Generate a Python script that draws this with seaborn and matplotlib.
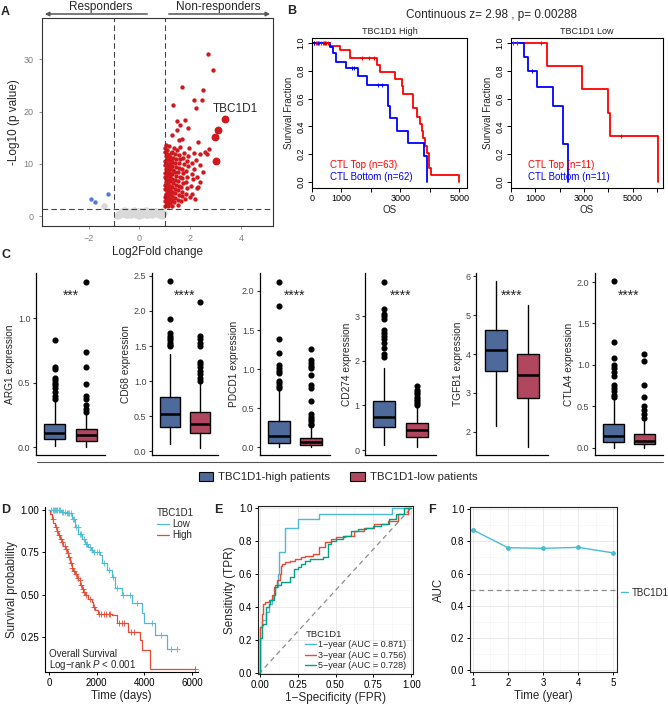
import matplotlib
matplotlib.use("Agg")
import matplotlib.pyplot as plt
from matplotlib.patches import Patch, FancyArrowPatch
from matplotlib.lines import Line2D
from matplotlib.transforms import blended_transform_factory
from matplotlib.ticker import MultipleLocator, FormatStrFormatter
import numpy as np
import pandas as pd
import seaborn as sns

W, H = 668, 704

# ---------------- A: volcano plot values (log2FC, -log10 p) ----------------
red_pts = [
    (1.01, 2.0), (1.02, 2.8), (1.01, 3.6), (1.03, 4.3), (1.02, 5.1), (1.01, 5.9), (1.03, 6.6), (1.02, 7.4),
    (1.01, 8.2), (1.03, 9.0), (1.02, 9.8), (1.01, 10.6), (1.03, 11.4), (1.02, 12.2), (1.01, 13.0), (1.03, 13.6),
    (1.07, 2.4), (1.08, 3.2), (1.06, 4.0), (1.09, 4.8), (1.07, 5.6), (1.08, 6.3), (1.06, 7.1), (1.09, 7.9),
    (1.07, 8.6), (1.08, 9.4), (1.06, 10.2), (1.09, 11.0), (1.07, 11.8), (1.08, 12.6),
    (1.13, 1.9), (1.14, 2.9), (1.12, 3.7), (1.15, 4.5), (1.13, 5.3), (1.14, 6.1), (1.12, 6.9), (1.15, 7.7),
    (1.13, 8.5), (1.14, 9.2), (1.12, 10.0), (1.15, 10.8), (1.13, 11.6), (1.18, 13.4),
    (1.2, 2.5), (1.21, 3.3), (1.19, 4.2), (1.22, 5.0), (1.2, 5.8), (1.21, 6.7), (1.19, 7.4), (1.22, 8.2),
    (1.2, 9.0), (1.21, 9.8), (1.23, 10.5), (1.2, 11.3), (1.24, 12.1),
    (1.27, 2.0), (1.28, 3.0), (1.3, 3.9), (1.27, 4.7), (1.29, 5.5), (1.31, 6.3), (1.28, 7.1), (1.3, 8.0),
    (1.32, 8.8), (1.27, 9.5), (1.3, 10.3), (1.33, 11.1), (1.29, 12.3), (1.27, 15.5), (1.34, 21.2), (1.35, 13.0),
    (1.37, 2.6), (1.39, 3.5), (1.41, 4.4), (1.38, 5.2), (1.42, 6.0), (1.4, 6.9), (1.43, 7.7), (1.39, 8.5),
    (1.44, 9.3), (1.41, 10.1), (1.45, 11.0), (1.4, 11.8), (1.46, 12.6), (1.47, 16.4), (1.47, 18.2),
    (1.5, 2.2), (1.52, 3.1), (1.55, 4.0), (1.51, 5.0), (1.56, 5.8), (1.53, 6.7), (1.58, 7.5), (1.52, 8.4),
    (1.57, 9.2), (1.54, 10.1), (1.6, 10.9), (1.55, 11.7), (1.54, 14.5), (1.6, 13.3), (1.6, 17.4), (1.67, 14.8),
    (1.68, 24.7),
    (1.63, 2.8), (1.66, 3.8), (1.68, 4.7), (1.64, 5.6), (1.7, 6.4), (1.67, 7.3), (1.72, 8.2), (1.69, 9.1),
    (1.74, 10.0), (1.71, 11.2), (1.76, 12.0), (1.8, 18.4),
    (1.8, 3.3), (1.83, 4.3), (1.86, 5.4), (1.82, 6.5), (1.88, 7.4), (1.85, 8.6), (1.9, 9.5), (1.87, 10.6),
    (1.93, 11.5), (1.93, 16.8), (1.97, 13.0),
    (2.0, 3.7), (2.06, 4.3), (2.03, 5.8), (2.1, 7.0), (2.05, 8.0), (2.13, 9.0), (2.08, 10.2), (2.15, 12.0),
    (2.13, 22.3), (2.23, 10.8), (2.26, 7.5), (2.3, 5.6), (2.28, 5.3), (2.22, 20.6), (2.3, 14.2), (2.39, 11.9),
    (2.39, 9.8), (2.46, 22.2), (2.52, 24.1), (2.5, 8.5), (2.58, 12.3), (2.65, 11.9), (2.72, 12.9),
    (2.68, 31.1), (2.89, 27.9), (2.2, 3.2), (2.4, 6.5),
]
big_pts = [(3.37, 18.5), (3.11, 16.4), (2.98, 15.2), (3.02, 10.5)]
blue_pts = [(-1.91, 3.2), (-1.76, 2.6), (-1.23, 4.3)]
gray_pts = [
    (-0.9, 0.1), (-0.85, 0.3), (-0.8, 0.6), (-0.75, 0.2), (-0.7, 0.9), (-0.65, 0.4), (-0.6, 0.7), (-0.6, 1.1),
    (-0.55, 0.2), (-0.5, 1.0), (-0.5, 0.5), (-0.45, 0.3), (-0.4, 0.8), (-0.35, 0.15), (-0.3, 0.55), (-0.3, 1.05),
    (-0.25, 0.35), (-0.2, 0.8), (-0.2, 1.1), (-0.15, 0.2), (-0.1, 0.6), (-0.1, 1.0), (-0.05, 0.4), (0.0, 0.1),
    (0.0, 0.9), (0.05, 0.5), (0.1, 0.25), (0.1, 1.05), (0.15, 0.7), (0.2, 0.4), (0.2, 1.0), (0.25, 0.15),
    (0.25, 1.1), (0.3, 0.6), (0.35, 0.3), (0.35, 1.0), (0.4, 0.85), (0.45, 0.5), (0.5, 0.2), (0.5, 1.0),
    (0.55, 0.7), (0.6, 0.35), (0.6, 1.05), (0.65, 0.9), (0.7, 0.55), (0.75, 0.25), (0.8, 0.8), (0.85, 0.45),
    (0.9, 0.9), (0.9, 0.1), (0.95, 0.6), (-1.38, 1.9),
]

# ---------------- B: KM curves by CTL level ----------------
b_hi_top_t = [0, 600, 940, 1280, 2190, 2320, 2830, 3040, 3100, 3420, 3580, 3660, 3720, 3780, 3830, 3910, 3970, 4030, 5000]
b_hi_top_s = [1.0, 0.98, 0.95, 0.89, 0.84, 0.79, 0.74, 0.69, 0.63, 0.53, 0.47, 0.42, 0.37, 0.32, 0.26, 0.21, 0.10, 0.05, 0.0]
b_hi_bot_t = [0, 600, 715, 830, 1170, 1565, 1850, 2585, 2640, 2870, 3265, 3810, 3890]
b_hi_bot_s = [1.0, 0.97, 0.93, 0.86, 0.82, 0.76, 0.70, 0.55, 0.46, 0.37, 0.28, 0.19, 0.0]
b_hi_top_cens = [60, 120, 180, 240, 300, 360, 420, 480, 540, 1700, 1950, 2120]
b_hi_bot_cens = [60, 200, 450, 1350, 1420, 2250, 2380]
b_lo_top_t = [0, 1460, 2920, 3990, 4060, 6040]
b_lo_top_s = [1.0, 0.833, 0.667, 0.5, 0.333, 0.0]
b_lo_bot_t = [0, 530, 680, 1050, 1710, 2145, 2350]
b_lo_bot_s = [1.0, 0.9, 0.8, 0.686, 0.549, 0.274, 0.0]
b_lo_top_cens = [100, 260, 1250, 4530]
b_lo_bot_cens = [850]

# ---------------- C: box plot summaries [whislo, q1, median, q3, whishi] ----------------
c_genes = ['ARG1', 'CD68', 'PDCD1', 'CD274', 'TGFB1', 'CTLA4']
c_stars = ['***', '****', '****', '****', '****', '****']
c_high = [[0.01, 0.065, 0.11, 0.18, 0.35], [0.10, 0.35, 0.53, 0.77, 1.39], [0.0, 0.05, 0.14, 0.33, 0.73],
          [0.12, 0.51, 0.75, 1.10, 1.85], [2.15, 3.57, 4.10, 4.61, 5.88], [0.0, 0.07, 0.14, 0.28, 0.58]]
c_low = [[0.0, 0.05, 0.095, 0.14, 0.25], [0.05, 0.27, 0.39, 0.56, 0.97], [0.0, 0.03, 0.07, 0.12, 0.25],
         [0.06, 0.30, 0.46, 0.61, 1.01], [1.60, 2.88, 3.46, 4.01, 5.26], [0.0, 0.04, 0.08, 0.16, 0.34]]
c_high_out = [[0.83, 0.62, 0.61, 0.54, 0.52, 0.50, 0.48, 0.46, 0.43, 0.40, 0.37],
              [2.42, 1.88, 1.68, 1.65, 1.62, 1.58, 1.55, 1.52, 1.50],
              [2.12, 1.81, 1.39, 1.20, 1.05, 1.02, 0.98, 0.95, 0.85, 0.82, 0.78, 0.76],
              [3.76, 3.16, 3.06, 3.0, 2.93, 2.70, 2.62, 2.55, 2.48, 2.40, 2.28, 2.15, 2.08],
              [],
              [2.01, 1.28, 1.08, 1.0, 0.96, 0.91, 0.87, 0.76, 0.72, 0.68, 0.64, 0.61]]
c_low_out = [[1.28, 0.74, 0.62, 0.49, 0.40, 0.37, 0.33, 0.30, 0.27],
             [2.13, 1.65, 1.60, 1.55, 1.50, 1.28, 1.25, 1.20, 1.15, 1.10, 1.05, 1.0],
             [1.26, 1.12, 1.08, 1.04, 1.02, 0.93, 0.80, 0.76, 0.59, 0.42, 0.39, 0.36, 0.33, 0.30, 0.28],
             [1.44, 1.35, 1.30, 1.25, 1.20, 1.15, 1.10, 1.05, 1.02],
             [],
             [1.13, 1.05, 0.76, 0.61, 0.50, 0.46, 0.40, 0.36]]

# ---------------- D: overall survival by TBC1D1 ----------------
d_low_t = [0, 500, 700, 950, 1090, 1230, 1370, 1510, 1650, 1760, 1860, 2140, 2210, 2420, 2630, 2770, 3050,
           3470, 3890, 4000, 4450, 4940, 5360]
d_low_s = [1.0, 0.99, 0.98, 0.95, 0.90, 0.86, 0.83, 0.80, 0.78, 0.765, 0.75, 0.735, 0.69, 0.645, 0.605,
           0.54, 0.50, 0.45, 0.39, 0.33, 0.26, 0.18, 0.18]
d_high_t = [0, 60, 110, 180, 250, 320, 390, 460, 530, 600, 670, 740, 810, 880, 950, 1020, 1090, 1160, 1230,
            1300, 1370, 1440, 1510, 1650, 1790, 1860, 1930, 2070, 2650, 2840, 3330, 3820, 3890, 4240, 6120]
d_high_s = [1.0, 0.975, 0.95, 0.925, 0.90, 0.875, 0.85, 0.83, 0.81, 0.79, 0.77, 0.745, 0.72, 0.69, 0.66,
            0.64, 0.62, 0.60, 0.585, 0.56, 0.535, 0.515, 0.497, 0.475, 0.457, 0.43, 0.408, 0.388, 0.378,
            0.33, 0.28, 0.23, 0.171, 0.063, 0.063]
d_low_cens = [100, 150, 200, 250, 300, 350, 400, 450, 550, 600, 650, 750, 800, 850, 900, 1000, 1050, 1150,
              1200, 1300, 1350, 1450, 1550, 1600, 1700, 1800, 1900, 2000, 2100, 2300, 2500, 2700, 2850,
              3100, 3400, 3700, 4300, 4700, 5100, 5360]
d_high_cens = [150, 280, 350, 420, 500, 560, 650, 720, 780, 850, 920, 980, 1050, 1150, 1200, 1280, 1350,
               1420, 1480, 1550, 1700, 1900, 2100, 2200, 2300, 2400, 2500, 2550, 2950, 3050, 3150, 3450,
               3550, 6120]

# ---------------- E: time-dependent ROC ----------------
roc_labels = ['1\u2212year (AUC = 0.871)', '3\u2212year (AUC = 0.756)', '5\u2212year (AUC = 0.728)']
fpr_1y = [0.0, 0.004, 0.015, 0.04, 0.06, 0.08, 0.09, 0.1, 0.12, 0.13, 0.165, 0.25, 0.39, 0.87, 1.0]
tpr_1y = [0.0, 0.2, 0.28, 0.32, 0.37, 0.42, 0.45, 0.47, 0.52, 0.60, 0.73, 0.88, 0.93, 0.96, 1.0]
fpr_3y = [0.0, 0.004, 0.015, 0.025, 0.037, 0.06, 0.081, 0.092, 0.1, 0.113, 0.135, 0.14, 0.146, 0.168, 0.2,
          0.233, 0.27, 0.3, 0.35, 0.39, 0.43, 0.47, 0.5, 0.56, 0.625, 0.69, 0.756, 0.843, 0.908, 0.974, 1.0]
tpr_3y = [0.0, 0.22, 0.28, 0.36, 0.42, 0.43, 0.44, 0.47, 0.52, 0.53, 0.56, 0.60, 0.65, 0.66, 0.67, 0.68,
          0.69, 0.70, 0.71, 0.72, 0.76, 0.79, 0.81, 0.82, 0.83, 0.86, 0.88, 0.90, 0.92, 0.96, 1.0]
fpr_5y = [0.0, 0.004, 0.015, 0.025, 0.04, 0.06, 0.07, 0.092, 0.1, 0.113, 0.14, 0.2, 0.23, 0.25, 0.27, 0.3,
          0.33, 0.42, 0.45, 0.47, 0.5, 0.55, 0.6, 0.65, 0.7, 0.75, 0.8, 0.85, 0.9, 0.95, 1.0]
tpr_5y = [0.0, 0.21, 0.21, 0.29, 0.30, 0.40, 0.42, 0.44, 0.47, 0.52, 0.53, 0.55, 0.58, 0.63, 0.64, 0.66,
          0.68, 0.69, 0.70, 0.78, 0.80, 0.81, 0.83, 0.86, 0.87, 0.88, 0.89, 0.90, 0.93, 0.96, 1.0]

# ---------------- F: AUC over time ----------------
auc_years = [1, 2, 3, 4, 5]
auc_vals = [0.871, 0.760, 0.756, 0.762, 0.728]

NPG_RED, NPG_BLUE, NPG_GREEN = '#E64B35', '#4DBBD5', '#00A087'
BOX_HIGH, BOX_LOW = '#4E6A9B', '#B0475E'

sns.set_theme(style='ticks')
plt.rcParams['font.family'] = ['Liberation Sans', 'DejaVu Sans']
plt.rcParams['mathtext.fontset'] = 'custom'
plt.rcParams['mathtext.rm'] = 'Liberation Sans'
plt.rcParams['mathtext.it'] = 'Liberation Sans:italic'

fig = plt.figure(figsize=(W / 100, H / 100), dpi=100)


def px_axes(l, t, r, b):
    return fig.add_axes([l / W, 1 - b / H, (r - l) / W, (b - t) / H])


def fx(x):
    return x / W


def fy(y):
    return 1 - y / H


def surv_at(times, surv, cens):
    idx = np.searchsorted(times, cens, side='right') - 1
    return np.asarray(surv)[idx]


# panel letters
for letter, (lx, ly) in {'A': (1, 12), 'B': (287, 11), 'C': (1, 255), 'D': (1, 510),
                         'E': (214, 510), 'F': (428, 510)}.items():
    fig.text(fx(lx), fy(ly), letter, fontsize=9, weight='bold', va='center')

# ---------------- A ----------------
axA = px_axes(42, 18, 273, 226)
gx, gy = zip(*gray_pts)
sns.scatterplot(x=list(gx), y=list(gy), color='#D9D9D9', s=22, linewidth=0, ax=axA)
bx, by = zip(*blue_pts)
sns.scatterplot(x=list(bx), y=list(by), color='#5079DA', s=10, linewidth=0, ax=axA)
rx, ry = zip(*red_pts)
sns.scatterplot(x=list(rx), y=list(ry), color='#D0191E', s=10, linewidth=0, ax=axA)
kx, ky = zip(*big_pts)
sns.scatterplot(x=list(kx), y=list(ky), color='#D0191E', s=32, linewidth=0, ax=axA)
for v in (-1, 1):
    axA.axvline(v, color='#444444', lw=0.8, ls=(0, (5, 3)))
axA.axhline(1.3, color='#444444', lw=0.8, ls=(0, (5, 3)))
axA.text(2.9, 19.3, 'TBC1D1', fontsize=8.5, va='bottom')
axA.set_xlim(-3.84, 5.26)
axA.set_ylim(-1.9, 37.9)
axA.set_xticks([-2, 0, 2, 4])
axA.set_yticks([0, 10, 20, 30])
axA.tick_params(labelsize=6.5, colors='#808080', length=2.5, width=0.6)
axA.set_xlabel('Log2Fold change', fontsize=8.5, labelpad=2)
axA.set_ylabel('-Log10 (p value)', fontsize=8.5, labelpad=3)
for sp in axA.spines.values():
    sp.set_color('#333333')
    sp.set_linewidth(0.8)

fig.add_artist(FancyArrowPatch((fx(150), fy(14)), (fx(42), fy(14)), transform=fig.transFigure,
                               arrowstyle='-|>', mutation_scale=6, color='#555555', lw=1.1))
fig.add_artist(FancyArrowPatch((fx(166), fy(14)), (fx(273), fy(14)), transform=fig.transFigure,
                               arrowstyle='-|>', mutation_scale=6, color='#555555', lw=1.1))
fig.text(fx(101), fy(7), 'Responders', ha='center', va='center', fontsize=8.5)
fig.text(fx(218), fy(7), 'Non-responders', ha='center', va='center', fontsize=8.5)

# ---------------- B ----------------
fig.text(fx(492), fy(15), 'Continuous z= 2.98 , p= 0.00288', ha='center', va='center', fontsize=8.5)
b_sets = [
    ((312, 38, 467, 188), 5260, 'TBC1D1 High', b_hi_top_t, b_hi_top_s, b_hi_top_cens, b_hi_bot_t, b_hi_bot_s,
     b_hi_bot_cens, 'CTL Top (n=63)', 'CTL Bottom (n=62)', [0, 1000, 2000, 3000, 4000, 5000]),
    ((511, 38, 663, 188), 6240, 'TBC1D1 Low', b_lo_top_t, b_lo_top_s, b_lo_top_cens, b_lo_bot_t, b_lo_bot_s,
     b_lo_bot_cens, 'CTL Top (n=11)', 'CTL Bottom (n=11)', [0, 1000, 2000, 3000, 4000, 5000, 6000]),
]
for rect, xmax, title, tt, ts, tc, bt, bs, bc, ltop, lbot, xt in b_sets:
    ax = px_axes(*rect)
    sns.lineplot(x=tt, y=ts, drawstyle='steps-post', estimator=None, sort=False, color='#FF0000', lw=1.3, ax=ax)
    sns.lineplot(x=bt, y=bs, drawstyle='steps-post', estimator=None, sort=False, color='#0000FF', lw=1.3, ax=ax)
    ax.plot(tc, surv_at(tt, ts, tc), ls='none', marker='+', ms=3.5, mew=0.7, color='#FF0000')
    ax.plot(bc, surv_at(bt, bs, bc), ls='none', marker='+', ms=3.5, mew=0.7, color='#0000FF')
    ax.set_xlim(0, xmax)
    ax.set_ylim(-0.043, 1.036)
    ax.set_xticks(xt)
    ax.set_xticklabels(['0', '1000', '', '3000', '', '5000', ''][:len(xt)])
    ax.set_yticks([0, 0.2, 0.4, 0.6, 0.8, 1.0])
    ax.set_yticklabels(['0.0', '0.2', '0.4', '0.6', '0.8', '1.0'], rotation=90, va='center')
    ax.tick_params(labelsize=6.5, length=3, width=0.7, pad=1.5, colors='black')
    ax.set_title(title, fontsize=6.5, pad=3)
    ax.set_xlabel('OS', fontsize=7, labelpad=1)
    ax.set_ylabel('Survival Fraction', fontsize=7, labelpad=2)
    for sp in ax.spines.values():
        sp.set_visible(True)
        sp.set_color('black')
        sp.set_linewidth(0.8)
    ax.text(0.115, 0.155, ltop, color='#FF0000', transform=ax.transAxes, fontsize=7, va='center')
    ax.text(0.115, 0.075, lbot, color='#0000FF', transform=ax.transAxes, fontsize=7, va='center')

# ---------------- C ----------------
c_rects = [(36, 105), (152, 218), (260, 330), (365, 436), (476, 548), (595, 663)]
c_ylims = [(-0.06, 1.35), (-0.05, 2.54), (-0.1, 2.23), (-0.11, 3.97), (1.40, 6.09), (-0.09, 2.11)]
c_steps = [0.5, 0.5, 0.5, 1, 1, 0.5]
for i, gene in enumerate(c_genes):
    l, r = c_rects[i]
    ax = px_axes(l, 273, r, 455)
    stats = []
    for vals, outs in ((c_high[i], c_high_out[i]), (c_low[i], c_low_out[i])):
        stats.append(dict(whislo=vals[0], q1=vals[1], med=vals[2], q3=vals[3], whishi=vals[4], fliers=outs))
    bp = ax.bxp(stats, positions=[0, 1], widths=0.68, patch_artist=True, showcaps=False,
                boxprops=dict(linewidth=1.0, edgecolor='black'),
                medianprops=dict(color='black', linewidth=1.8),
                whiskerprops=dict(color='black', linewidth=1.0),
                flierprops=dict(marker='o', markerfacecolor='black', markeredgecolor='black', markersize=3.4))
    for patch, col in zip(bp['boxes'], (BOX_HIGH, BOX_LOW)):
        patch.set_facecolor(col)
    ax.set_xlim(-0.6, 1.6)
    ax.set_ylim(*c_ylims[i])
    ax.yaxis.set_major_locator(MultipleLocator(c_steps[i]))
    ax.yaxis.set_major_formatter(FormatStrFormatter('%.1f' if c_steps[i] < 1 else '%d'))
    ax.set_xticks([])
    ax.tick_params(axis='y', labelsize=6.5, length=2.5, width=0.8, pad=1.5, labelcolor='#444444')
    ax.set_ylabel(f'{gene} expression', fontsize=7.3, labelpad=2)
    for side in ('top', 'right'):
        ax.spines[side].set_visible(False)
    for side in ('left', 'bottom'):
        ax.spines[side].set_color('black')
        ax.spines[side].set_linewidth(0.9)
    ax.text(0.5, 0.875, c_stars[i], transform=blended_transform_factory(ax.transData, ax.transAxes),
            fontsize=10, ha='center', va='center')

fig.add_artist(Line2D([fx(37), fx(663)], [fy(462), fy(462)], transform=fig.transFigure, color='#555555', lw=0.8))
fig.legend(handles=[Patch(facecolor=BOX_HIGH, edgecolor='black', lw=0.8),
                    Patch(facecolor=BOX_LOW, edgecolor='black', lw=0.8)],
           labels=['TBC1D1-high patients', 'TBC1D1-low patients'], loc='center',
           bbox_to_anchor=(fx(338), fy(477)), ncol=2, frameon=False, fontsize=8.2,
           handlelength=1.3, handleheight=0.8, handletextpad=0.4, columnspacing=1.8)

# ---------------- D ----------------
axD = px_axes(45, 507, 198, 672)
sns.lineplot(x=d_low_t, y=d_low_s, drawstyle='steps-post', estimator=None, sort=False, color=NPG_BLUE,
             lw=0.9, ax=axD, label='Low')
sns.lineplot(x=d_high_t, y=d_high_s, drawstyle='steps-post', estimator=None, sort=False, color=NPG_RED,
             lw=0.9, ax=axD, label='High')
axD.plot(d_low_cens, surv_at(d_low_t, d_low_s, d_low_cens), ls='none', marker='+', ms=4, mew=0.6, color=NPG_BLUE)
axD.plot(d_high_cens, surv_at(d_high_t, d_high_s, d_high_cens), ls='none', marker='+', ms=4, mew=0.6, color=NPG_RED)
axD.set_xlim(-170, 6250)
axD.set_ylim(0.043, 1.018)
axD.set_xticks([0, 2000, 4000, 6000])
axD.set_yticks([0.25, 0.5, 0.75, 1.0])
axD.set_yticklabels(['0.25', '0.50', '0.75', '1.00'])
axD.tick_params(labelsize=7, length=2.5, width=0.7, pad=1.5, colors='black')
axD.set_xlabel('Time (days)', fontsize=8.3, labelpad=1.5)
axD.set_ylabel('Survival probability', fontsize=8.3, labelpad=2)
for side in ('top', 'right'):
    axD.spines[side].set_visible(False)
for side in ('left', 'bottom'):
    axD.spines[side].set_color('black')
    axD.spines[side].set_linewidth(0.8)
legD = axD.legend(title='TBC1D1', loc='upper right', bbox_to_anchor=(1.03, 1.05), frameon=False,
                  fontsize=7, title_fontsize=7, handlelength=1.2, handletextpad=0.4, labelspacing=0.15)
legD._legend_box.align = 'left'
axD.text(0.025, 0.11, 'Overall Survival', transform=axD.transAxes, fontsize=7, va='center')
axD.text(0.025, 0.045, 'Log\u2212rank $P$ < 0.001', transform=axD.transAxes, fontsize=7, va='center')


def grid_box(ax):
    ax.set_facecolor('white')
    ax.grid(which='major', color='#E6E6E6', lw=0.6)
    ax.grid(which='minor', color='#F3F3F3', lw=0.4)
    ax.set_axisbelow(True)
    for sp in ax.spines.values():
        sp.set_visible(True)
        sp.set_color('#222222')
        sp.set_linewidth(0.8)
    ax.tick_params(which='major', labelsize=7, length=2.5, width=0.7, pad=1.5, colors='black')
    ax.tick_params(which='minor', length=0)


# ---------------- E ----------------
axE = px_axes(258, 506, 413, 674)
roc_df = pd.concat([
    pd.DataFrame({'fpr': fpr_1y, 'tpr': tpr_1y, 'curve': roc_labels[0]}),
    pd.DataFrame({'fpr': fpr_3y, 'tpr': tpr_3y, 'curve': roc_labels[1]}),
    pd.DataFrame({'fpr': fpr_5y, 'tpr': tpr_5y, 'curve': roc_labels[2]}),
], ignore_index=True)
axE.axline((0, 0), slope=1, color='#8C8C8C', lw=0.9, ls=(0, (4, 3)))
sns.lineplot(data=roc_df, x='fpr', y='tpr', hue='curve', estimator=None, sort=False, drawstyle='steps-pre',
             palette=dict(zip(roc_labels, [NPG_BLUE, NPG_RED, NPG_GREEN])), lw=1.0, ax=axE)
axE.set_xlim(-0.01, 1.01)
axE.set_ylim(-0.005, 1.01)
axE.xaxis.set_major_locator(MultipleLocator(0.25))
axE.xaxis.set_minor_locator(MultipleLocator(0.125))
axE.yaxis.set_major_locator(MultipleLocator(0.2))
axE.yaxis.set_minor_locator(MultipleLocator(0.1))
axE.xaxis.set_major_formatter(FormatStrFormatter('%.2f'))
axE.yaxis.set_major_formatter(FormatStrFormatter('%.1f'))
grid_box(axE)
axE.set_xlabel('1\u2212Specificity (FPR)', fontsize=8.5, labelpad=1.5)
axE.set_ylabel('Sensitivity (TPR)', fontsize=8.5, labelpad=2)
legE = axE.legend(title='TBC1D1', loc='lower right', bbox_to_anchor=(1.0, -0.015), frameon=False,
                  fontsize=6.5, title_fontsize=6.8, handlelength=1.15, handletextpad=0.3, labelspacing=0.15,
                  borderpad=0.2)
legE._legend_box.align = 'left'

# ---------------- F ----------------
axF = px_axes(470, 507, 617, 672)
axF.axhline(0.5, color='#8C8C8C', lw=0.9, ls=(0, (4, 3)))
sns.lineplot(x=auc_years, y=auc_vals, color=NPG_BLUE, marker='o', markersize=3.5, markeredgewidth=0,
             lw=1.0, ax=axF)
axF.set_xlim(0.923, 5.11)
axF.set_ylim(-0.01, 1.012)
axF.xaxis.set_major_locator(MultipleLocator(1))
axF.xaxis.set_minor_locator(MultipleLocator(0.5))
axF.yaxis.set_major_locator(MultipleLocator(0.2))
axF.yaxis.set_minor_locator(MultipleLocator(0.1))
axF.yaxis.set_major_formatter(FormatStrFormatter('%.1f'))
grid_box(axF)
axF.set_xlabel('Time (year)', fontsize=8.3, labelpad=1.5)
axF.set_ylabel('AUC', fontsize=8.3, labelpad=4)
axF.legend(handles=[Line2D([], [], color=NPG_BLUE, lw=1.0)], labels=['TBC1D1'], loc='center left',
           bbox_to_anchor=(1.0, 0.48), frameon=False, fontsize=7, handlelength=0.7, handletextpad=0.4,
           borderaxespad=0.2, borderpad=0.2)

fig.savefig('out.png', dpi=100)
